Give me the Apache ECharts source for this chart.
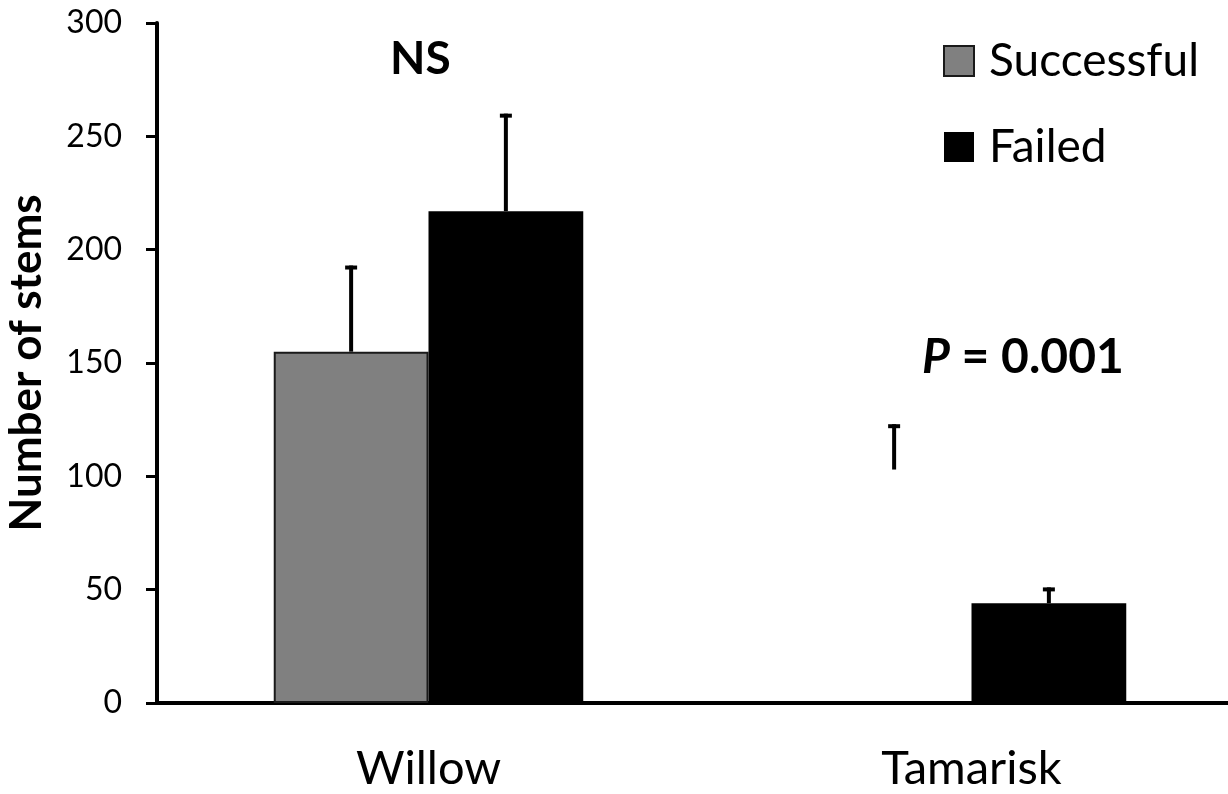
<!DOCTYPE html>
<html>
<head>
<meta charset="utf-8">
<script src="https://cdn.jsdelivr.net/npm/echarts@6/dist/echarts.min.js"></script>
<style>
  html, body { margin: 0; padding: 0; background: #fff; }
  #barChart { width: 1228px; height: 794px; }
</style>
</head>
<body>
<div id="barChart"></div>
<script>
// data
const categories = ['Willow', 'Tamarisk']
const successful = [155, 103]
const successfulErr = [38, 20]
const failed = [217, 44]
const failedErr = [43, 7]
const yTicks = [0, 50, 100, 150, 200, 250, 300]

const FONT = 'Lato, "Open Sans", sans-serif'
const CAT_GAP = 0.43

// upper error bar, drawn at the centre of the bar for the given series slot (0 left, 1 right)
function errorBar(slot, err) {
  return function (params, api) {
    const idx = api.value(0)
    const val = api.value(1)
    const band = api.size([1, 0])[0]
    const barW = band * (1 - CAT_GAP) / 2
    const base = api.coord([idx, val])
    const top = api.coord([idx, val + err[idx]])
    const x = base[0] + (slot === 0 ? -barW / 2 : barW / 2)
    return {
      type: 'group',
      children: [
        { type: 'line', shape: { x1: x, y1: base[1], x2: x, y2: top[1] }, style: { stroke: '#000', lineWidth: 4 } },
        { type: 'line', shape: { x1: x - 6, y1: top[1] + 2, x2: x + 6, y2: top[1] + 2 }, style: { stroke: '#000', lineWidth: 4 } }
      ]
    }
  }
}

const chart = echarts.init(document.getElementById('barChart'))
chart.setOption({
  animation: false,
  backgroundColor: '#fff',
  grid: { left: 157, top: 23, bottom: 91, width: 1086, outerBoundsMode: 'none', containLabel: false },
  legend: {
    orient: 'vertical',
    left: 943,
    top: 38,
    padding: 0,
    itemWidth: 30,
    itemHeight: 30,
    itemGap: 40,
    icon: 'rect',
    data: ['Successful', 'Failed'],
    textStyle: { fontFamily: FONT, fontSize: 46, color: '#000', padding: [0, 0, 0, 10] }
  },
  xAxis: {
    type: 'category',
    data: categories,
    axisLine: { lineStyle: { color: '#000', width: 4 } },
    axisTick: { show: false },
    axisLabel: { fontFamily: FONT, fontSize: 47, color: '#000', margin: 42 }
  },
  yAxis: {
    type: 'value',
    min: 0,
    max: 300,
    interval: 50,
    name: 'Number of stems',
    nameLocation: 'middle',
    nameGap: 108,
    nameTextStyle: { fontFamily: FONT, fontSize: 44, fontWeight: 'bold', color: '#000' },
    axisLine: { show: true, lineStyle: { color: '#000', width: 4 } },
    axisTick: { show: true, length: 11, lineStyle: { color: '#000', width: 3 } },
    axisLabel: {
      fontFamily: FONT, fontSize: 32, color: '#000', margin: 35,
      formatter: (v) => (yTicks.includes(v) ? String(v) : '')
    },
    splitLine: { show: false }
  },
  series: [
    {
      name: 'Successful',
      type: 'bar',
      barGap: '0%',
      barCategoryGap: CAT_GAP * 100 + '%',
      itemStyle: { color: '#808080', borderColor: '#1a1a1a', borderWidth: 2 },
      // the Tamarisk bar is not visible in the figure, only its error bar
      data: successful.map((v, i) => (i === 1 ? { value: v, itemStyle: { color: 'rgba(0,0,0,0)', borderWidth: 0 } } : v))
    },
    {
      name: 'Failed',
      type: 'bar',
      itemStyle: { color: '#000' },
      data: failed
    },
    {
      type: 'custom',
      renderItem: errorBar(0, successfulErr),
      data: successful.map((v, i) => [i, v]),
      z: 5
    },
    {
      type: 'custom',
      renderItem: errorBar(1, failedErr),
      data: failed.map((v, i) => [i, v]),
      z: 5
    }
  ],
  graphic: [
    {
      type: 'text', left: 390, top: 36,
      style: { text: 'NS', fontFamily: FONT, fontSize: 46, fontWeight: 'bold', fill: '#000' }
    },
    {
      type: 'text', left: 922, top: 334,
      style: {
        text: '{i|P} = 0.001',
        fontFamily: FONT, fontSize: 48, fontWeight: 'bold', fill: '#000',
        rich: { i: { fontFamily: FONT, fontSize: 48, fontWeight: 'bold', fontStyle: 'italic' } }
      }
    }
  ]
})
</script>
</body>
</html>
